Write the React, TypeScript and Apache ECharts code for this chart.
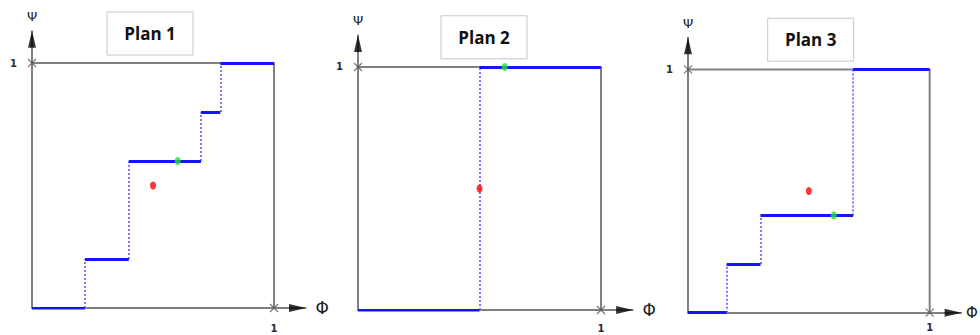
import React, { useEffect, useRef } from "react";
import * as echarts from "echarts";

// ---- data ----
const titles = ["Plan 1", "Plan 2", "Plan 3"];
const plan1Breaks = [0.219, 0.4, 0.698, 0.778];
const plan1Levels = [0, 0.2, 0.6, 0.8, 1];
const plan2Breaks = [0.5];
const plan2Levels = [0, 1];
const plan3Breaks = [0.16, 0.3, 0.683];
const plan3Levels = [0, 0.2, 0.4, 1];
const greenPoints = [
  [0.602, 0.6],
  [0.604, 1],
  [0.603, 0.4],
];
const redPoints = [
  [0.5, 0.5],
  [0.5, 0.5],
  [0.5, 0.5],
];
const axisMax = 1.13;
const tickLabels = ["1"];

const plans = [
  { breaks: plan1Breaks, levels: plan1Levels },
  { breaks: plan2Breaks, levels: plan2Levels },
  { breaks: plan3Breaks, levels: plan3Levels },
];

// ---- layout (styles) ----
const grids = [
  { left: 32, top: 31.2, width: 273.5, height: 276.8 },
  { left: 358, top: 35.4, width: 274.6, height: 274.6 },
  { left: 688, top: 37.8, width: 273.1, height: 274.9 },
];
const xLabelMargins = [15, 13, 10];
const xNameGaps = [10, 10, 5];
const titleBoxes = [
  { cx: 150, cy: 33.5 },
  { cx: 484, cy: 37.3 },
  { cx: 810.7, cy: 39.7 },
];

const GRAY = "#808080";
const BLUE = "#1414ff";
const DOT_BLUE = "#7b7bff";

function buildOption() {
  const xAxis: any[] = [];
  const yAxis: any[] = [];
  const series: any[] = [];
  const graphic: any[] = [];

  plans.forEach((p, i) => {
    const labelFmt = (v: number) =>
      Math.abs(v - 1) < 1e-9 ? tickLabels[0] : "";
    xAxis.push({
      type: "value",
      gridIndex: i,
      min: 0,
      max: axisMax,
      interval: 1,
      name: "Φ",
      nameLocation: "end",
      nameGap: xNameGaps[i],
      nameTextStyle: {
        fontSize: i === 2 ? 15 : 17,
        color: "#222",
        fontFamily: "DejaVu Sans",
        verticalAlign: "middle",
      },
      axisLine: { show: true, lineStyle: { color: GRAY, width: 2 } },
      axisTick: { show: false },
      splitLine: { show: false },
      axisLabel: {
        formatter: labelFmt,
        margin: xLabelMargins[i],
        fontSize: 10,
        fontWeight: "bold",
        color: "#2a2a3a",
        fontFamily: "DejaVu Sans",
        showMaxLabel: false,
      },
    });
    yAxis.push({
      type: "value",
      gridIndex: i,
      min: 0,
      max: axisMax,
      interval: 1,
      name: "Ψ",
      nameLocation: "end",
      nameGap: 8,
      nameTextStyle: {
        fontSize: 13,
        color: "#222",
        fontFamily: "DejaVu Sans",
        align: "center",
      },
      axisLine: { show: true, lineStyle: { color: GRAY, width: 2 } },
      axisTick: { show: false },
      splitLine: { show: false },
      axisLabel: {
        formatter: labelFmt,
        margin: 15,
        fontSize: 10,
        fontWeight: "bold",
        color: "#2a2a3a",
        fontFamily: "DejaVu Sans",
        showMaxLabel: false,
      },
    });

    // box top & right
    series.push({
      type: "line",
      xAxisIndex: i,
      yAxisIndex: i,
      data: [
        [0, 1],
        [1, 1],
        [1, 0],
      ],
      symbol: "none",
      lineStyle: { color: GRAY, width: 2 },
      z: 1,
      silent: true,
    });

    // horizontal steps
    const xs = [0, ...p.breaks, 1];
    const hData = p.levels.map((lv, k) => ({
      coords: [
        [xs[k], lv],
        [xs[k + 1], lv],
      ],
    }));
    series.push({
      type: "lines",
      coordinateSystem: "cartesian2d",
      xAxisIndex: i,
      yAxisIndex: i,
      data: hData,
      lineStyle: { color: BLUE, width: 3, opacity: 1 },
      z: 4,
      silent: true,
    });

    // vertical dotted risers
    const vData = p.breaks.map((b, k) => ({
      coords: [
        [b, p.levels[k]],
        [b, p.levels[k + 1]],
      ],
    }));
    series.push({
      type: "lines",
      coordinateSystem: "cartesian2d",
      xAxisIndex: i,
      yAxisIndex: i,
      data: vData,
      lineStyle: { color: DOT_BLUE, width: 2, type: [2, 2], opacity: 1 },
      z: 3,
      silent: true,
    });

    // corner crosses
    series.push({
      type: "scatter",
      xAxisIndex: i,
      yAxisIndex: i,
      data: [
        [0, 1],
        [1, 0],
      ],
      symbol: "path://M0,0L10,10M10,0L0,10",
      symbolSize: 8,
      itemStyle: { color: "rgba(0,0,0,0)", borderColor: "#555", borderWidth: 1.2 },
      z: 5,
      silent: true,
    });

    // arrow heads
    series.push({
      type: "scatter",
      xAxisIndex: i,
      yAxisIndex: i,
      data: [[0, axisMax]],
      symbol: "triangle",
      symbolSize: [8, 17],
      symbolOffset: [0, 8],
      itemStyle: { color: "#000" },
      clip: false,
      z: 6,
      silent: true,
    });
    series.push({
      type: "scatter",
      xAxisIndex: i,
      yAxisIndex: i,
      data: [[axisMax, 0]],
      symbol: "triangle",
      symbolSize: [8, 17],
      symbolRotate: -90,
      symbolOffset: [-8, 0],
      itemStyle: { color: "#000" },
      clip: false,
      z: 6,
      silent: true,
    });

    // red & green points
    series.push({
      type: "scatter",
      xAxisIndex: i,
      yAxisIndex: i,
      data: [redPoints[i]],
      symbol: "circle",
      symbolSize: [6, 8],
      itemStyle: { color: "#ff0000" },
      z: 7,
      silent: true,
    });
    series.push({
      type: "scatter",
      xAxisIndex: i,
      yAxisIndex: i,
      data: [greenPoints[i]],
      symbol: "circle",
      symbolSize: [6, 8],
      itemStyle: { color: "#1ee61e" },
      z: 7,
      silent: true,
    });

    // title box
    const tb = titleBoxes[i];
    graphic.push({
      type: "group",
      x: tb.cx,
      y: tb.cy,
      children: [
        {
          type: "rect",
          shape: { x: -43, y: -21.5, width: 86, height: 43 },
          style: { fill: "#fff", stroke: "#c8c8c8", lineWidth: 1 },
        },
        {
          type: "text",
          x: 0,
          y: 0,
          style: {
            text: titles[i],
            fontSize: 17,
            fontWeight: "bold",
            fontFamily: "Open Sans",
            fill: "#111",
            align: "center",
            verticalAlign: "middle",
          },
        },
      ],
    });
  });

  return {
    animation: false,
    backgroundColor: "#fff",
    grid: grids.map((g) => ({
      ...g,
      containLabel: false,
      outerBoundsMode: "none",
    })),
    xAxis,
    yAxis,
    series,
    graphic,
  };
}

export default function App() {
  const ref = useRef<HTMLDivElement>(null);
  useEffect(() => {
    if (!ref.current) return;
    const chart = echarts.init(ref.current, null, { renderer: "svg" });
    chart.setOption(buildOption() as any);
    return () => chart.dispose();
  }, []);
  return (
    <div
      ref={ref}
      style={{ position: "fixed", left: 0, top: 0, width: 980, height: 335 }}
    />
  );
}
